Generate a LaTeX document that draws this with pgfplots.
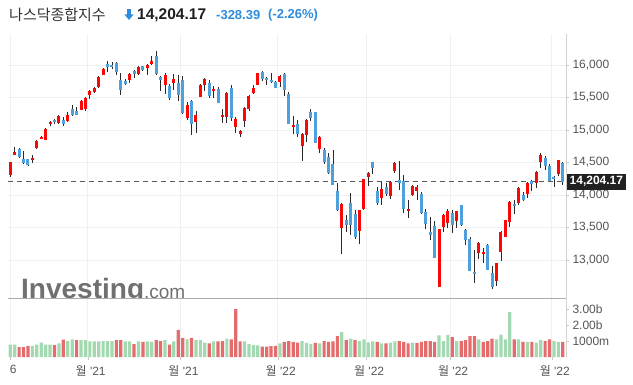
\documentclass[border=0pt]{standalone}
\usepackage{fontspec}
\setmainfont{Liberation Sans}
\newfontfamily\kr{Noto Sans CJK KR}
\usepackage{pgfplots}
\usepackage{pgfplotstable}
\pgfplotsset{compat=1.18}
\definecolor{cRed}{RGB}{250,8,8}
\definecolor{cBlue}{RGB}{77,160,220}
\definecolor{vGreen}{RGB}{163,217,177}
\definecolor{vRed}{RGB}{229,108,108}
\definecolor{tBlue}{RGB}{46,140,220}
\definecolor{wick}{RGB}{40,40,40}
\definecolor{tGray}{RGB}{85,85,85}
\definecolor{gridc}{RGB}{240,240,240}
\definecolor{wm}{RGB}{112,112,112}

\pgfplotstableread{
i o h l c v u
0 14300 14512 14270 14502 0.77 1
1 14620 14740 14610 14654 0.77 1
2 14705 14720 14570 14580 0.62 0
3 14555 14680 14480 14486 0.62 0
4 14550 14560 14440 14466 0.70 0
5 14545 14615 14490 14572 0.70 1
6 14730 14840 14712 14823 0.77 1
7 14866 14910 14860 14897 0.90 1
8 14850 15030 14840 15022 0.77 1
9 15085 15140 15060 15129 0.77 1
10 15150 15165 15090 15122 0.75 0
11 15110 15228 15090 15216 0.85 1
12 15160 15200 15060 15090 1.08 0
13 15140 15270 15120 15227 1.00 1
14 15320 15385 15220 15236 1.10 1
15 15290 15360 15230 15236 1.05 0
16 15310 15460 15300 15448 1.05 1
17 15330 15505 15300 15498 1.05 1
18 15540 15610 15470 15596 0.98 1
19 15590 15660 15570 15650 0.98 1
20 15660 15825 15650 15812 0.98 1
21 15850 15950 15840 15940 1.00 1
22 16020 16060 15900 15972 1.00 1
23 15995 16040 15940 15982 1.00 1
24 16030 16050 15850 15887 1.05 0
25 15770 15870 15540 15623 1.05 0
26 15760 15780 15700 15704 0.98 1
27 15765 15880 15730 15861 0.98 1
28 15905 15925 15800 15854 0.80 0
29 15855 15990 15840 15974 0.98 1
30 15980 15990 15910 15922 0.95 0
31 15960 16020 15850 15994 0.98 1
32 16020 16140 16000 16057 0.95 1
33 16140 16212 15850 15855 1.05 0
34 15820 15830 15600 15775 1.00 0
35 15690 15880 15560 15845 1.05 1
36 15680 15700 15460 15492 0.78 0
37 15730 15860 15620 15783 0.98 1
38 15720 15850 15450 15538 1.70 0
39 15770 15830 15250 15254 1.20 0
40 15190 15430 15160 15381 1.10 1
41 15445 15460 14930 15085 1.20 0
42 15130 15290 14950 15225 1.05 1
43 15510 15700 15500 15687 1.05 1
44 15700 15800 15600 15787 0.90 1
45 15730 15770 15500 15517 0.85 0
46 15610 15670 15500 15631 0.98 1
47 15635 15660 15410 15413 0.98 0
48 15200 15320 15100 15237 1.00 0
49 15200 15580 15100 15566 1.15 1
50 15640 15700 15140 15180 1.10 0
51 15040 15200 14960 15170 3.00 0
52 14945 15000 14890 14981 0.98 0
53 15140 15350 15050 15341 0.98 1
54 15330 15540 15300 15522 0.80 1
55 15565 15700 15560 15653 0.75 1
56 15700 15875 15690 15871 0.72 1
57 15900 15905 15760 15782 0.65 0
58 15795 15820 15700 15766 0.65 0
59 15765 15870 15730 15742 0.68 0
60 15735 15760 15640 15645 0.70 0
61 15735 15850 15660 15833 0.85 1
62 15860 15870 15520 15623 0.95 0
63 15550 15580 15100 15100 1.00 0
64 15040 15210 14940 15081 0.95 0
65 15100 15160 14890 14936 0.90 0
66 14755 14960 14530 14943 1.00 1
67 14930 15170 14820 15153 0.88 1
68 15275 15320 15140 15188 0.82 1
69 15270 15280 14800 14807 0.88 0
70 14710 14910 14650 14894 0.85 1
71 14690 14720 14480 14507 1.00 0
72 14590 14650 14330 14340 0.95 0
73 14480 14690 14150 14154 0.98 0
74 14065 14190 13760 13769 1.30 0
75 13490 13870 13094 13855 1.55 1
76 13620 13690 13430 13539 1.05 0
77 13870 14030 13380 13542 1.15 1
78 13710 13765 13320 13353 1.05 0
79 13440 13771 13240 13771 1.00 1
80 13790 14242 13775 14240 1.10 1
81 14280 14360 14140 14346 0.92 1
82 14500 14515 14320 14418 0.98 1
83 14060 14130 13850 13879 0.95 0
84 13960 14200 13850 14098 0.85 1
85 14120 14180 13990 14016 0.85 0
86 13990 14220 13935 14194 0.90 1
87 14370 14500 14340 14490 0.98 1
88 14230 14520 14080 14186 1.00 0
89 14210 14300 13730 13791 0.95 0
90 13760 13920 13650 13791 0.85 0
91 14000 14160 13990 14140 0.90 1
92 14060 14160 13920 14124 0.88 0
93 14015 14040 13710 13717 0.95 0
94 13740 13780 13472 13548 1.00 0
95 13435 13660 13300 13382 1.00 0
96 13530 13600 13030 13037 0.95 0
97 12590 13480 12587 13474 1.35 1
98 13500 13710 13430 13695 1.00 1
99 13575 13780 13490 13751 1.38 1
100 13720 13770 13420 13532 1.25 0
101 13600 13760 13490 13752 1.00 1
102 13845 13850 13520 13538 1.00 0
103 13460 13470 13230 13313 1.05 0
104 13330 13350 12830 12831 1.30 0
105 12810 13160 12640 12796 1.30 0
106 13100 13270 13020 13256 1.10 1
107 13100 13190 12950 13130 0.95 0
108 13230 13250 12840 12844 1.00 0
109 12800 12900 12555 12581 1.15 0
110 12680 12960 12600 12949 1.10 1
111 13130 13450 12990 13437 1.40 1
112 13360 13620 13350 13615 1.10 1
113 13580 13910 13500 13894 2.80 1
114 13860 13920 13700 13838 1.10 0
115 13870 14130 13840 14109 1.10 1
116 14000 14050 13910 13923 0.95 0
117 14010 14200 13950 14192 0.95 1
118 14210 14230 14060 14169 0.95 0
119 14190 14370 14100 14355 0.90 1
120 14513 14646 14420 14620 1.05 1
121 14570 14600 14380 14442 1.00 0
122 14445 14480 14210 14221 1.10 0
123 14270 14290 14130 14261 1.00 1
124 14320 14540 14290 14533 0.95 1
125 14490 14500 14160 14204 0.95 0
}\ohlc

\pgfplotsset{
  chartbase/.style={
    scale only axis, width=558pt,
    xmin=-0.52, xmax=125.72,
    axis y line*=right, axis x line*=bottom,
    axis line style={-},
    y axis line style={draw=gray!35},
    xtick={0,17.5,38.5,60.5,80.5,99.5,122.5},
    grid=major, grid style={draw=gridc, line width=0.6pt},
    tick align=outside, major tick length=3pt,
    ytick style={draw=gray!45},
    yticklabel style={font=\fontsize{12}{12}\selectfont, text=tGray, anchor=west},
    scaled y ticks=false,
    /pgf/number format/assume math mode=true,
  },
  wickst/.style={draw=none, mark=none, forget plot,
    error bars/y dir=both, error bars/y explicit, error bars/error mark=none,
    error bars/error bar style={draw=wick, line width=0.85pt}},
  bodyst/.style={draw=none, mark=none, forget plot,
    error bars/y dir=both, error bars/y explicit, error bars/error mark=none,
    error bars/error bar style={draw=#1, line width=3pt}},
}

\begin{document}
\begin{tikzpicture}[x=1pt,y=1pt]
\useasboundingbox (0,0) rectangle (633,384);

% price pane
\begin{axis}[chartbase,
  at={(8pt,86pt)}, anchor=south west, height=264pt,
  ymin=12415, ymax=16477,
  x axis line style={draw=gray!65, line width=0.8pt},
  xticklabels={}, xtick style={draw=none},
  ytick={13000,13500,14000,14500,15000,15500,16000},
  yticklabels={13{,}000,13{,}500,14{,}000,14{,}500,15{,}000,15{,}500,16{,}000},
]
\addplot[draw=black!65, line width=0.9pt, dash pattern=on 5pt off 4pt, forget plot]
  coordinates {(-0.52,14204.17) (125.72,14204.17)};
\addplot[wickst] table[x=i, y expr={(\thisrow{h}+\thisrow{l})/2}, y error expr={(\thisrow{h}-\thisrow{l})/2}] {\ohlc};
\addplot[bodyst=cRed, restrict expr to domain={\thisrow{c}-\thisrow{o}}{0:100000}]
  table[x=i, y expr={(\thisrow{o}+\thisrow{c})/2}, y error expr={max(abs(\thisrow{c}-\thisrow{o})/2,6)}] {\ohlc};
\addplot[bodyst=cBlue, restrict expr to domain={\thisrow{c}-\thisrow{o}}{-100000:-0.001}]
  table[x=i, y expr={(\thisrow{o}+\thisrow{c})/2}, y error expr={max(abs(\thisrow{c}-\thisrow{o})/2,6)}] {\ohlc};
\end{axis}

% volume pane
\begin{axis}[chartbase,
  at={(8pt,27pt)}, anchor=south west, height=58pt,
  ymin=0, ymax=3.625,
  x axis line style={draw=none},
  ytick={1,2,3}, yticklabels={1000m,2.00b,3.00b},
  ymajorgrids=false,
  xtick style={draw=gray!45},
  xticklabels={6,{{\kr 월} \textquotesingle21},{{\kr 월} \textquotesingle21},{{\kr 월} \textquotesingle22},{{\kr 월} \textquotesingle22},{{\kr 월} \textquotesingle22},{{\kr 월} \textquotesingle22}},
  xticklabel style={font=\fontsize{12}{12}\selectfont, text=tGray, xshift=3pt, yshift=-2pt},
]
\addplot[ybar, bar width=3.2pt, bar shift=0pt, fill=vGreen, draw=none,
  restrict expr to domain={\thisrow{u}}{0.5:1.5}] table[x=i, y=v] {\ohlc};
\addplot[ybar, bar width=3.2pt, bar shift=0pt, fill=vRed, draw=none,
  restrict expr to domain={\thisrow{u}}{-0.5:0.5}] table[x=i, y=v] {\ohlc};
\end{axis}

% watermark
\begin{scope}
\clip (0,86.6) rectangle (565,384);
\node[anchor=base west, inner sep=0, text=wm, font=\bfseries\fontsize{28}{28}\selectfont] at (21,86) {Investing{\mdseries\fontsize{19}{19}\selectfont .com}};
\end{scope}

% title
\node[anchor=west, inner sep=0, font=\kr\fontsize{15}{15}\selectfont, text=black!80] at (9,369) {나스닥종합지수};
\fill[tBlue] (127,375) rectangle (131,369);
\fill[tBlue] (124.5,369.5) -- (133.5,369.5) -- (129,364) -- cycle;
\node[anchor=west, inner sep=0, font=\bfseries\fontsize{15.5}{15.5}\selectfont, text=black!88] at (137,369) {14,204.17};
\node[anchor=west, inner sep=0, font=\bfseries\fontsize{13}{13}\selectfont, text=tBlue] at (216,369) {-328.39};
\node[anchor=west, inner sep=0, font=\bfseries\fontsize{13}{13}\selectfont, text=tBlue] at (268,369) {(-2.26\%)};

% last price label
\node[anchor=west, fill=black!87, text=white, inner xsep=2.5pt, inner ysep=3pt, font=\bfseries\fontsize{12}{12}\selectfont] at (567,202.3) {14,204.17};
\end{tikzpicture}
\end{document}
